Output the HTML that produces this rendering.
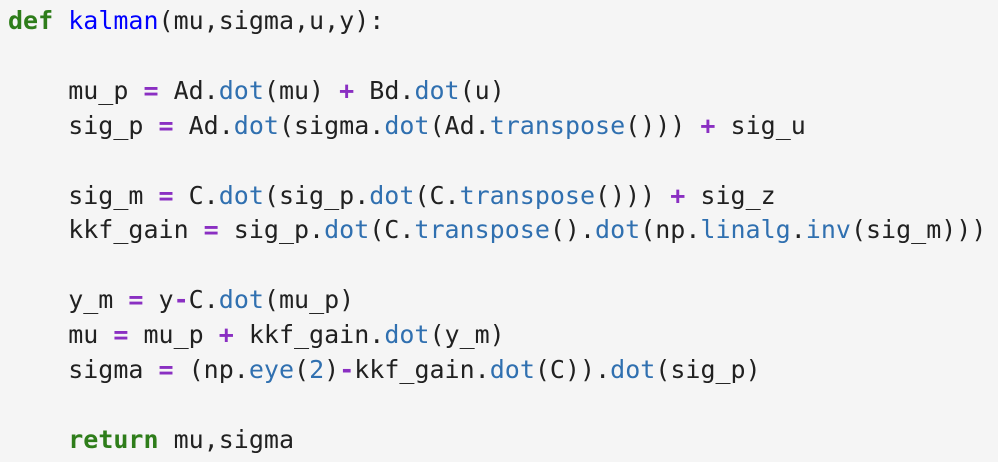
<!DOCTYPE html>
<html><head><meta charset="utf-8"><style>
html,body{margin:0;padding:0;background:#f5f5f5;width:998px;height:462px;overflow:hidden}
pre{margin:0;position:absolute;left:8px;top:4px;font-family:"DejaVu Sans Mono","Liberation Mono",monospace;font-size:25px;line-height:34.9px;color:#212121}
.k{color:#2e7d1a;font-weight:bold}
.f{color:#0000ff}
.m{color:#3070b0}
.o{color:#8a2fc2;font-weight:bold}
</style></head><body><pre><span class="k">def</span> <span class="f">kalman</span>(mu,sigma,u,y):

    mu_p <span class="o">=</span> Ad.<span class="m">dot</span>(mu) <span class="o">+</span> Bd.<span class="m">dot</span>(u)
    sig_p <span class="o">=</span> Ad.<span class="m">dot</span>(sigma.<span class="m">dot</span>(Ad.<span class="m">transpose</span>())) <span class="o">+</span> sig_u

    sig_m <span class="o">=</span> C.<span class="m">dot</span>(sig_p.<span class="m">dot</span>(C.<span class="m">transpose</span>())) <span class="o">+</span> sig_z
    kkf_gain <span class="o">=</span> sig_p.<span class="m">dot</span>(C.<span class="m">transpose</span>().<span class="m">dot</span>(np.<span class="m">linalg</span>.<span class="m">inv</span>(sig_m)))

    y_m <span class="o">=</span> y<span class="o">-</span>C.<span class="m">dot</span>(mu_p)
    mu <span class="o">=</span> mu_p <span class="o">+</span> kkf_gain.<span class="m">dot</span>(y_m)
    sigma <span class="o">=</span> (np.<span class="m">eye</span>(<span class="m">2</span>)<span class="o">-</span>kkf_gain.<span class="m">dot</span>(C)).<span class="m">dot</span>(sig_p)

    <span class="k">return</span> mu,sigma</pre></body></html>
